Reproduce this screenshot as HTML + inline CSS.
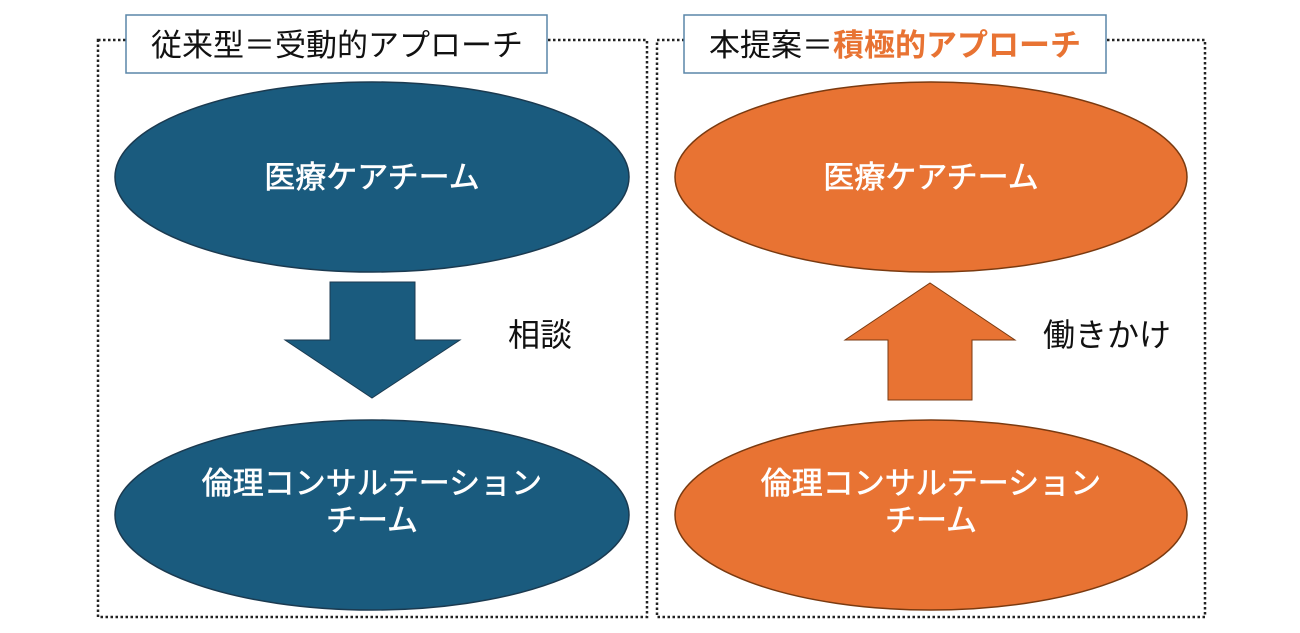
<!DOCTYPE html>
<html><head><meta charset="utf-8"><style>
body{margin:0;background:#fff;}
</style></head><body>
<svg width="1300" height="628" viewBox="0 0 1300 628" xmlns="http://www.w3.org/2000/svg" font-family="'Liberation Sans','Noto Sans CJK JP',sans-serif">
<rect x="98" y="40" width="549" height="577" fill="none" stroke="#222" stroke-width="2.5" stroke-dasharray="2.5,2.5"/>
<rect x="657" y="40" width="548" height="577" fill="none" stroke="#222" stroke-width="2.5" stroke-dasharray="2.5,2.5"/>
<rect x="126" y="15" width="421" height="58" fill="#fff" stroke="#5a86a8" stroke-width="1.5"/>
<rect x="684" y="15" width="422" height="58" fill="#fff" stroke="#5a86a8" stroke-width="1.5"/>
<text x="337" y="56" font-size="31" text-anchor="middle" fill="#111">従来型＝受動的アプローチ</text>
<text x="895" y="56" font-size="31" text-anchor="middle" fill="#111">本提案＝<tspan fill="#e87333" font-weight="bold">積極的アプローチ</tspan></text>
<ellipse cx="372" cy="177" rx="257" ry="95" fill="#1a5b7e" stroke="#1b3a50" stroke-width="1.5"/>
<ellipse cx="372" cy="515" rx="257" ry="95" fill="#1a5b7e" stroke="#1b3a50" stroke-width="1.5"/>
<ellipse cx="931" cy="177" rx="256" ry="95" fill="#e87333" stroke="#7a3a10" stroke-width="1.5"/>
<ellipse cx="931" cy="515" rx="256" ry="95" fill="#e87333" stroke="#7a3a10" stroke-width="1.5"/>
<polygon points="330,282 415,282 415,340 460,340 372,398 285,340 330,340" fill="#1a5b7e" stroke="#1b3a50" stroke-width="1"/>
<polygon points="888,400 972,400 972,340 1015,340 930,283 845,340 888,340" fill="#e87333" stroke="#7a3a10" stroke-width="1"/>
<g fill="#fff" font-size="31" text-anchor="middle" stroke="#fff" stroke-width="0.6">
<text x="372" y="188">医療ケアチーム</text>
<text x="931" y="188">医療ケアチーム</text>
<text x="372" y="494">倫理コンサルテーション</text>
<text x="372" y="531">チーム</text>
<text x="931" y="494">倫理コンサルテーション</text>
<text x="931" y="531">チーム</text>
</g>
<text x="540" y="346" font-size="32" text-anchor="middle" fill="#111">相談</text>
<text x="1107" y="346" font-size="32" text-anchor="middle" fill="#111">働きかけ</text>
</svg>
</body></html>
